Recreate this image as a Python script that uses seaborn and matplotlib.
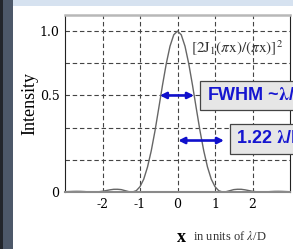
import numpy as np
import seaborn as sns
import matplotlib.pyplot as plt
from matplotlib.patches import Rectangle

# Airy pattern (half profile, x >= 0)
x_half = [0.0, 0.1, 0.2, 0.3, 0.4, 0.5, 0.6, 0.7, 0.8, 0.9, 1.0,
          1.1, 1.2, 1.3, 1.4, 1.5, 1.6, 1.7, 1.8, 1.9, 2.0,
          2.1, 2.2, 2.3, 2.4, 2.5, 2.6, 2.7, 2.8, 2.9, 3.0]
intensity_half = [1.0, 0.977, 0.906, 0.797, 0.664, 0.521, 0.380, 0.256, 0.155, 0.080, 0.033,
                  0.008, 0.0002, 0.0023, 0.0085, 0.0149, 0.0170, 0.0168, 0.0135, 0.0090, 0.0046,
                  0.0015, 0.0001, 0.0001, 0.0015, 0.0029, 0.0039, 0.0041, 0.0036, 0.0026, 0.0016]

x_ticks = [-2, -1, 0, 1, 2]
y_ticks = [0, 0.2, 0.4, 0.6, 0.8, 1.0]
y_ticklabels = ['0', '', '', '0.5', '', '1.0']

fwhm_span = (-0.47, 0.44, 0.6)
first_zero_span = (0.02, 1.24, 0.32)

x_all = [-v for v in x_half[:0:-1]] + x_half
y_all = intensity_half[:0:-1] + intensity_half

plt.rcParams['mathtext.fontset'] = 'stix'

fig = plt.figure(figsize=(2.93, 2.49), dpi=100)
fig.patch.set_facecolor('white')
# slide frame bits
fig.patches.append(Rectangle((0, 0), 13 / 293, 1, transform=fig.transFigure,
                             facecolor='#4d5869', edgecolor='none', zorder=0))
fig.patches.append(Rectangle((0, 0), 3 / 293, 1, transform=fig.transFigure,
                             facecolor='#22252b', edgecolor='none', zorder=0))
fig.patches.append(Rectangle((13 / 293, 1 - 6 / 249), 1, 6 / 249, transform=fig.transFigure,
                             facecolor='#d6e2f0', edgecolor='none', zorder=0))

ax = fig.add_axes([65 / 293, 1 - 192 / 249, 225 / 293, 177 / 249])
sns.lineplot(x=x_all, y=y_all, ax=ax, color='#666666', lw=1.0)

ax.set_xlim(-3, 3)
ax.set_ylim(0, 1.1)
ax.set_xticks(x_ticks)
ax.set_xticklabels([str(v) for v in x_ticks], family='DejaVu Serif', fontsize=9)
ax.set_yticks(y_ticks)
ax.set_yticklabels(y_ticklabels, family='DejaVu Serif', fontsize=9)
ax.tick_params(length=0, pad=4)
ax.grid(True, ls=(0, (4, 2.5)), color='#444444', lw=0.8)

ax.spines['left'].set_color('#222222')
ax.spines['right'].set_color('#222222')
ax.spines['top'].set_color('#b8b8b8')
ax.spines['top'].set_linewidth(1.8)
ax.spines['bottom'].set_color('#8a8a8a')
ax.spines['bottom'].set_linewidth(1.5)

ax.set_ylabel('Intensity', family='Liberation Serif', fontsize=13, labelpad=1)
ax.set_xlabel('')
fig.text(181 / 293, 1 - 237 / 249, 'x', family='Liberation Serif', fontsize=13,
         fontweight='bold', va='center', ha='center')
fig.text(193 / 293, 1 - 236 / 249, r'in units of $\lambda$/D', family='Liberation Serif',
         fontsize=9, va='center', color='#333333')

ax.text(0.35, 0.9, r'$[2\mathrm{J}_1(\pi \mathrm{x})/(\pi \mathrm{x})]^2$', fontsize=11,
        ha='left', va='center', color='#333333')

arrow = dict(arrowstyle='<|-|>', color='#1010cc', lw=1.9, mutation_scale=9,
             shrinkA=0, shrinkB=0)
ax.annotate('', xy=(fwhm_span[0], fwhm_span[2]), xytext=(fwhm_span[1], fwhm_span[2]),
            arrowprops=arrow)
ax.annotate('', xy=(first_zero_span[0], first_zero_span[2]),
            xytext=(first_zero_span[1], first_zero_span[2]), arrowprops=arrow)

box = dict(boxstyle='square,pad=0.35', facecolor='#e6e6e6', edgecolor='#444444', lw=0.9)
ax.text(0.78, 0.6, r'FWHM ~$\mathbf{\lambda}$/D', family='Liberation Sans', fontsize=13,
        fontweight='bold', color='#1515d0', ha='left', va='center', bbox=box,
        clip_on=False)
ax.text(1.57, 0.33, r'1.22 $\mathbf{\lambda}$/D', family='Liberation Sans', fontsize=13,
        fontweight='bold', color='#1515d0', ha='left', va='center', bbox=box,
        clip_on=False)

plt.savefig('out.png', dpi=100)
